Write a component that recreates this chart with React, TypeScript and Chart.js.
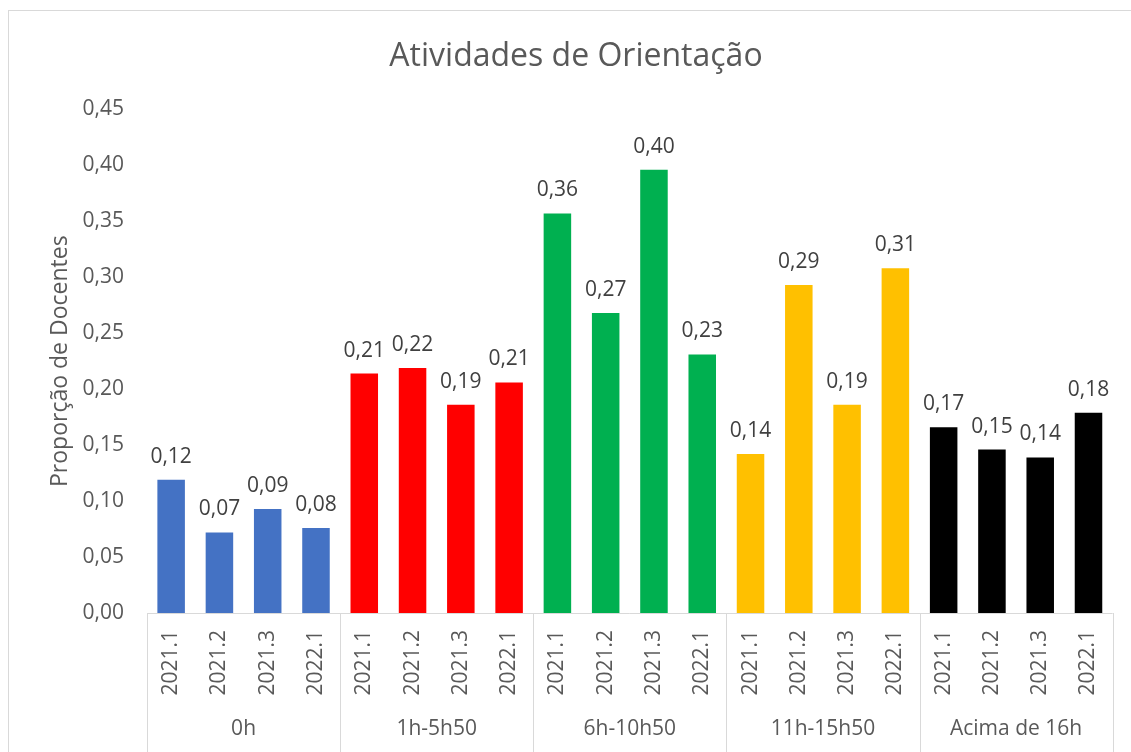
import React, { useEffect, useRef } from "react";
import { Chart, registerables } from "chart.js";
Chart.register(...registerables);

const titleText = "Atividades de Orientação";
const yTitle = "Proporção de Docentes";
const groups = ["0h", "1h-5h50", "6h-10h50", "11h-15h50", "Acima de 16h"];
const periods = ["2021.1", "2021.2", "2021.3", "2022.1"];
const groupColors = ["#4472C4", "#FF0000", "#00B050", "#FFC000", "#000000"];
const values0h = [0.119, 0.072, 0.093, 0.076];
const values1h = [0.214, 0.219, 0.186, 0.206];
const values6h = [0.357, 0.268, 0.396, 0.231];
const values11h = [0.142, 0.293, 0.186, 0.308];
const values16h = [0.166, 0.146, 0.139, 0.179];
const yTicks = [0, 0.05, 0.1, 0.15, 0.2, 0.25, 0.3, 0.35, 0.4, 0.45];

const FONT = "'Open Sans', sans-serif";
const TEXT = "#595959";

export default function App() {
  const ref = useRef<HTMLCanvasElement | null>(null);
  useEffect(() => {
    document.body.style.overflow = "hidden";
    const canvas = ref.current!;
    const allValues = [values0h, values1h, values6h, values11h, values16h];
    const labels: string[] = [];
    const data: number[] = [];
    const colors: string[] = [];
    allValues.forEach((arr, g) => {
      arr.forEach((v, i) => {
        labels.push(periods[i]);
        data.push(v);
        colors.push(groupColors[g]);
      });
    });
    const fmt = (v: number) => v.toFixed(2).replace(".", ",");

    const groupPlugin = {
      id: "groupAxis",
      afterDraw(chart: any) {
        const ctx = chart.ctx;
        const x = chart.scales.x;
        const area = chart.chartArea;
        const H = chart.height;
        ctx.save();
        ctx.strokeStyle = "#d9d9d9";
        ctx.lineWidth = 1;
        ctx.beginPath();
        ctx.moveTo(area.left, Math.round(area.bottom) + 0.5);
        ctx.lineTo(area.right, Math.round(area.bottom) + 0.5);
        for (let g = 0; g <= groups.length; g++) {
          const px = Math.round(x.getPixelForValue(g * periods.length - 0.5)) + 0.5;
          ctx.moveTo(px, area.bottom);
          ctx.lineTo(px, H);
        }
        ctx.stroke();
        ctx.fillStyle = TEXT;
        ctx.font = `21px ${FONT}`;
        ctx.textAlign = "center";
        ctx.textBaseline = "middle";
        groups.forEach((name, g) => {
          const cx = x.getPixelForValue(g * periods.length + (periods.length - 1) / 2);
          ctx.fillText(name, cx, 718);
        });
        ctx.restore();
      },
    };

    const labelPlugin = {
      id: "barLabels",
      afterDatasetsDraw(chart: any) {
        const ctx = chart.ctx;
        const meta = chart.getDatasetMeta(0);
        ctx.save();
        ctx.fillStyle = "#404040";
        ctx.font = `21px ${FONT}`;
        ctx.textAlign = "center";
        ctx.textBaseline = "alphabetic";
        meta.data.forEach((el: any, i: number) => {
          ctx.fillText(fmt(data[i]), el.x, el.y - 17);
        });
        ctx.restore();
      },
    };

    const chart = new Chart(canvas, {
      type: "bar",
      data: {
        labels,
        datasets: [
          {
            data,
            backgroundColor: colors,
            borderWidth: 0,
            categoryPercentage: 1,
            barPercentage: 0.57,
          },
        ],
      },
      options: {
        animation: false,
        responsive: false,
        layout: { padding: { left: 24, right: 12, top: 0, bottom: 0 } },
        plugins: {
          legend: { display: false },
          tooltip: { enabled: false },
          title: {
            display: true,
            text: titleText,
            color: TEXT,
            font: { family: FONT, size: 32, weight: "normal", lineHeight: 1.2 },
            padding: { top: 27, bottom: 33 },
          },
        },
        scales: {
          x: {
            grid: { display: false, drawTicks: false },
            border: { display: false },
            ticks: {
              autoSkip: false,
              maxRotation: 90,
              minRotation: 90,
              padding: 17,
              color: TEXT,
              font: { family: FONT, size: 21 },
            },
            afterFit: (s: any) => {
              s.height = 139;
            },
          },
          y: {
            min: 0,
            max: 0.45,
            afterBuildTicks: (s: any) => {
              s.ticks = yTicks.map((v) => ({ value: v }));
            },
            grid: { display: false, drawTicks: false },
            border: { display: false },
            ticks: {
              padding: 23,
              color: TEXT,
              font: { family: FONT, size: 21 },
              callback: (v: any) => fmt(Number(v)),
            },
            title: {
              display: true,
              text: yTitle,
              color: TEXT,
              font: { family: FONT, size: 23 },
              padding: { top: 14, bottom: 0 },
            },
            afterFit: (s: any) => {
              s.width = 114;
            },
          },
        },
      },
      plugins: [groupPlugin, labelPlugin],
    } as any);
    return () => chart.destroy();
  }, []);

  return (
    <div
      style={{
        position: "absolute",
        left: 8,
        top: 10,
        width: 1140,
        height: 760,
        borderLeft: "1px solid #d9d9d9",
        borderTop: "1px solid #d9d9d9",
        background: "#fff",
      }}
    >
      <canvas ref={ref} width={1122} height={741} style={{ display: "block" }} />
    </div>
  );
}
